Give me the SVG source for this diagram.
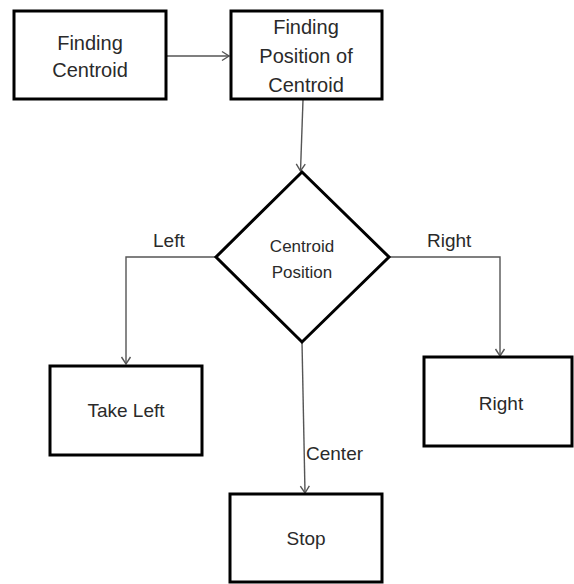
<svg xmlns="http://www.w3.org/2000/svg" width="574" height="584" viewBox="0 0 574 584">
  <style>
    .box { fill: #ffffff; stroke: #000000; stroke-width: 3; }
    .t { font-family: "Liberation Sans", Arial, sans-serif; fill: #2a2a2a; text-anchor: middle; }
    .b20 { font-size: 20px; }
    .b19 { font-size: 19px; }
    .d17 { font-size: 17px; }
    .lbl { font-family: "Liberation Sans", Arial, sans-serif; fill: #2a2a2a; font-size: 19px; }
    .conn { fill: none; stroke: #555555; stroke-width: 1.4; }
  </style>
  <defs>
    <marker id="arr" markerUnits="userSpaceOnUse" markerWidth="14" markerHeight="14" refX="10" refY="7" orient="auto">
      <path d="M3,2.5 L10,7 L3,11.5" fill="none" stroke="#555555" stroke-width="1.4"/>
    </marker>
  </defs>
  <rect width="574" height="584" fill="#ffffff"/>

  <g id="connectors">
    <line class="conn" x1="166" y1="56" x2="229" y2="56" marker-end="url(#arr)"/>
    <line class="conn" x1="303" y1="100" x2="300.5" y2="171" marker-end="url(#arr)"/>
    <polyline class="conn" points="216,257 126,257 126,364" marker-end="url(#arr)"/>
    <polyline class="conn" points="389,257 500,257 500,356" marker-end="url(#arr)"/>
    <line class="conn" x1="302" y1="342" x2="305" y2="493" marker-end="url(#arr)"/>
    <text class="lbl" x="153" y="247">Left</text>
    <text class="lbl" x="427" y="247">Right</text>
    <text class="lbl" x="306" y="460">Center</text>
  </g>

  <g id="finding-centroid">
    <rect class="box" x="14" y="11" width="152" height="88"/>
    <text class="t b20" x="90" y="50">Finding</text>
    <text class="t b20" x="90" y="77">Centroid</text>
  </g>

  <g id="finding-position">
    <rect class="box" x="231" y="11" width="151" height="88"/>
    <text class="t b20" x="306" y="34">Finding</text>
    <text class="t b20" x="306" y="63">Position of</text>
    <text class="t b20" x="306" y="92">Centroid</text>
  </g>

  <g id="centroid-position">
    <polygon class="box" points="302,172 389,257 302,342 216,257"/>
    <text class="t d17" x="302" y="252">Centroid</text>
    <text class="t d17" x="302" y="278">Position</text>
  </g>

  <g id="take-left">
    <rect class="box" x="50" y="366" width="152" height="89"/>
    <text class="t b19" x="126" y="417">Take Left</text>
  </g>

  <g id="right">
    <rect class="box" x="424" y="357" width="148" height="89"/>
    <text class="t b19" x="501" y="410">Right</text>
  </g>

  <g id="stop">
    <rect class="box" x="230" y="494" width="152" height="88"/>
    <text class="t b19" x="306" y="545">Stop</text>
  </g>
</svg>
